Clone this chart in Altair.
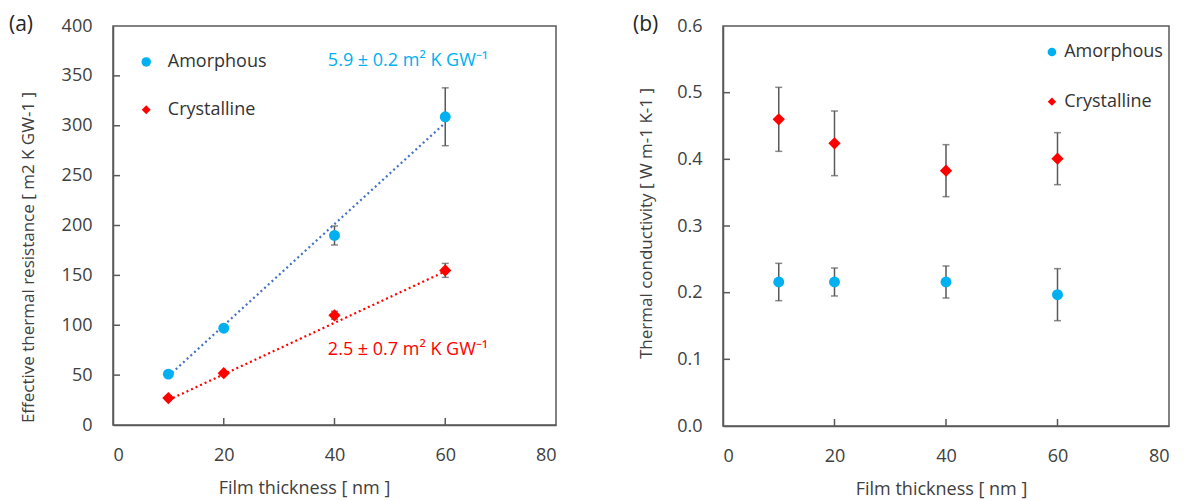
import altair as alt
import pandas as pd

# ---------------- data ----------------
thickness = [10, 20, 40, 60]
res_amorph = [51, 97, 190, 309]
res_amorph_err = [2, 3, 9.5, 29]
res_cryst = [27, 52, 110, 155]
res_cryst_err = [2, 2, 4, 7]

fit_x = [10, 60]
fit_amorph = [49, 303]
fit_cryst = [25, 154]

cond_amorph = [0.216, 0.216, 0.216, 0.197]
cond_amorph_err = [0.028, 0.021, 0.024, 0.039]
cond_cryst = [0.460, 0.424, 0.383, 0.401]
cond_cryst_err = [0.048, 0.0485, 0.039, 0.039]

x_ticks = [0, 20, 40, 60, 80]
ya_ticks = [0, 50, 100, 150, 200, 250, 300, 350, 400]
yb_ticks = [0, 0.1, 0.2, 0.3, 0.4, 0.5, 0.6]

series = ["Amorphous", "Crystalline"]
slope_labels = ["5.9 ± 0.2 m² K GW⁻¹", "2.5 ± 0.7 m² K GW⁻¹"]

BLUE = "#00B0F0"
RED = "#FF0000"
FITBLUE = "#4472C4"
GRAY = "#595959"
TXT = "#333333"
FONT = "Open Sans"

W_A, H_A = 443, 399
W_B, H_B = 446, 400


def df(xs, ys, **extra):
    d = pd.DataFrame({"x": xs, "y": ys})
    for k, v in extra.items():
        d[k] = v
    return d


def make_panel(w, h, ydomain, yvalues, yfmt, ytitle, ytitle_x, ytitle_y, xtitle_x,
               amorph, amorph_err, cryst, cryst_err, fits, legend, annotations, tag):
    xenc = alt.X("x:Q", scale=alt.Scale(domain=[0, 80], nice=False),
                 axis=alt.Axis(values=x_ticks, title="Film thickness [ nm ]",
                               labelPadding=30, labelBaseline="middle",
                               titleX=xtitle_x, titleY=63, titleBaseline="middle",
                               titleAlign="center"))
    yenc = alt.Y("y:Q", scale=alt.Scale(domain=ydomain, nice=False),
                 axis=alt.Axis(values=yvalues, format=yfmt, title=ytitle,
                               labelPadding=21, titleFontSize=17,
                               titleX=ytitle_x, titleY=ytitle_y, titleAngle=270,
                               titleBaseline="middle", titleAlign="center"))
    layers = []
    # inner ticks
    layers.append(alt.Chart(df(x_ticks[1:-1], [ydomain[0]] * 3)).mark_rule(
        color=GRAY, strokeWidth=1.5).encode(x=xenc, y=alt.value(h), y2=alt.value(h - 7)))
    layers.append(alt.Chart(df([0] * (len(yvalues) - 2), yvalues[1:-1])).mark_rule(
        color=GRAY, strokeWidth=1.5).encode(y=yenc, x=alt.value(0), x2=alt.value(7)))
    # fit lines
    for fx, fy, col in fits:
        layers.append(alt.Chart(df(fx, fy)).mark_line(
            color=col, strokeWidth=2.2, strokeDash=[2, 3]).encode(x=xenc, y=yenc))
    # error bars
    for vals, errs in [(amorph, amorph_err), (cryst, cryst_err)]:
        lo = [v - e for v, e in zip(vals, errs)]
        hi = [v + e for v, e in zip(vals, errs)]
        d = pd.DataFrame({"x": thickness, "y": lo, "y2": hi})
        layers.append(alt.Chart(d).mark_rule(color=GRAY, strokeWidth=1.5).encode(
            x=xenc, y=yenc, y2="y2:Q"))
        layers.append(alt.Chart(df(thickness + thickness, lo + hi)).mark_tick(
            color=GRAY, orient="horizontal", size=7, thickness=1.5).encode(x=xenc, y=yenc))
    # points
    layers.append(alt.Chart(df(thickness, amorph)).mark_point(
        filled=True, shape="circle", size=120, color=BLUE, opacity=1).encode(x=xenc, y=yenc))
    layers.append(alt.Chart(df(thickness, cryst)).mark_point(
        filled=True, shape="diamond", size=150, color=RED, opacity=1).encode(x=xenc, y=yenc))
    # legend
    (mx, tx, y1, y2, csize, dsize) = legend
    layers.append(alt.Chart(df([mx], [y1])).mark_point(
        filled=True, shape="circle", size=csize, color=BLUE, opacity=1).encode(x=xenc, y=yenc))
    layers.append(alt.Chart(df([mx], [y2])).mark_point(
        filled=True, shape="diamond", size=dsize, color=RED, opacity=1).encode(x=xenc, y=yenc))
    layers.append(alt.Chart(df([tx, tx], [y1, y2], label=series)).mark_text(
        align="left", baseline="middle", font=FONT, fontSize=18, color=TXT).encode(
        x=xenc, y=yenc, text="label:N"))
    # annotations
    for ax_, ay_, txt, col in annotations:
        layers.append(alt.Chart(df([ax_], [ay_], label=[txt])).mark_text(
            align="left", baseline="middle", font=FONT, fontSize=18, color=col).encode(
            x=xenc, y=yenc, text="label:N"))
    # panel tag
    layers.append(alt.Chart(pd.DataFrame({"t": [tag[0]]})).mark_text(
        align="left", baseline="middle", font=FONT, fontSize=21, color="#262626").encode(
        text="t:N", x=alt.value(tag[1]), y=alt.value(-1)))
    return alt.layer(*layers).properties(width=w, height=h)


panel_a = make_panel(
    W_A, H_A, [0, 400], ya_ticks, "d",
    "Effective thermal resistance [ m2 K GW-1 ]", -85, 231, 191,
    res_amorph, res_amorph_err, res_cryst, res_cryst_err,
    [(fit_x, fit_amorph, FITBLUE), (fit_x, fit_cryst, RED)],
    (6.0, 9.9, 364, 316, 90, 80),
    [(38.8, 365, slope_labels[0], BLUE), (38.8, 75, slope_labels[1], RED)],
    ("(a)", -104))

panel_b = make_panel(
    W_B, H_B, [0, 0.6], yb_ticks, ".1f",
    "Thermal conductivity [ W m-1 K-1 ]", -77, 197, 218,
    cond_amorph, cond_amorph_err, cond_cryst, cond_cryst_err,
    [],
    (59.0, 61.2, 0.561, 0.4865, 75, 70),
    [],
    ("(b)", -90))

chart = alt.hconcat(panel_a, panel_b, spacing=167, bounds="flush").configure_view(
    stroke=GRAY, strokeWidth=1.5
).configure_axis(
    labelFont=FONT, titleFont=FONT, labelFontSize=18, titleFontSize=18,
    labelColor="#404040", titleColor="#404040", titleFontWeight="normal",
    domainColor=GRAY, domainWidth=1.5, grid=False, ticks=False, tickSize=0
).properties(
    padding={"left": 8, "top": 13, "right": 0, "bottom": 0},
    background="white"
)

chart.save("out.html", embed_options={"renderer": "svg", "actions": False})
